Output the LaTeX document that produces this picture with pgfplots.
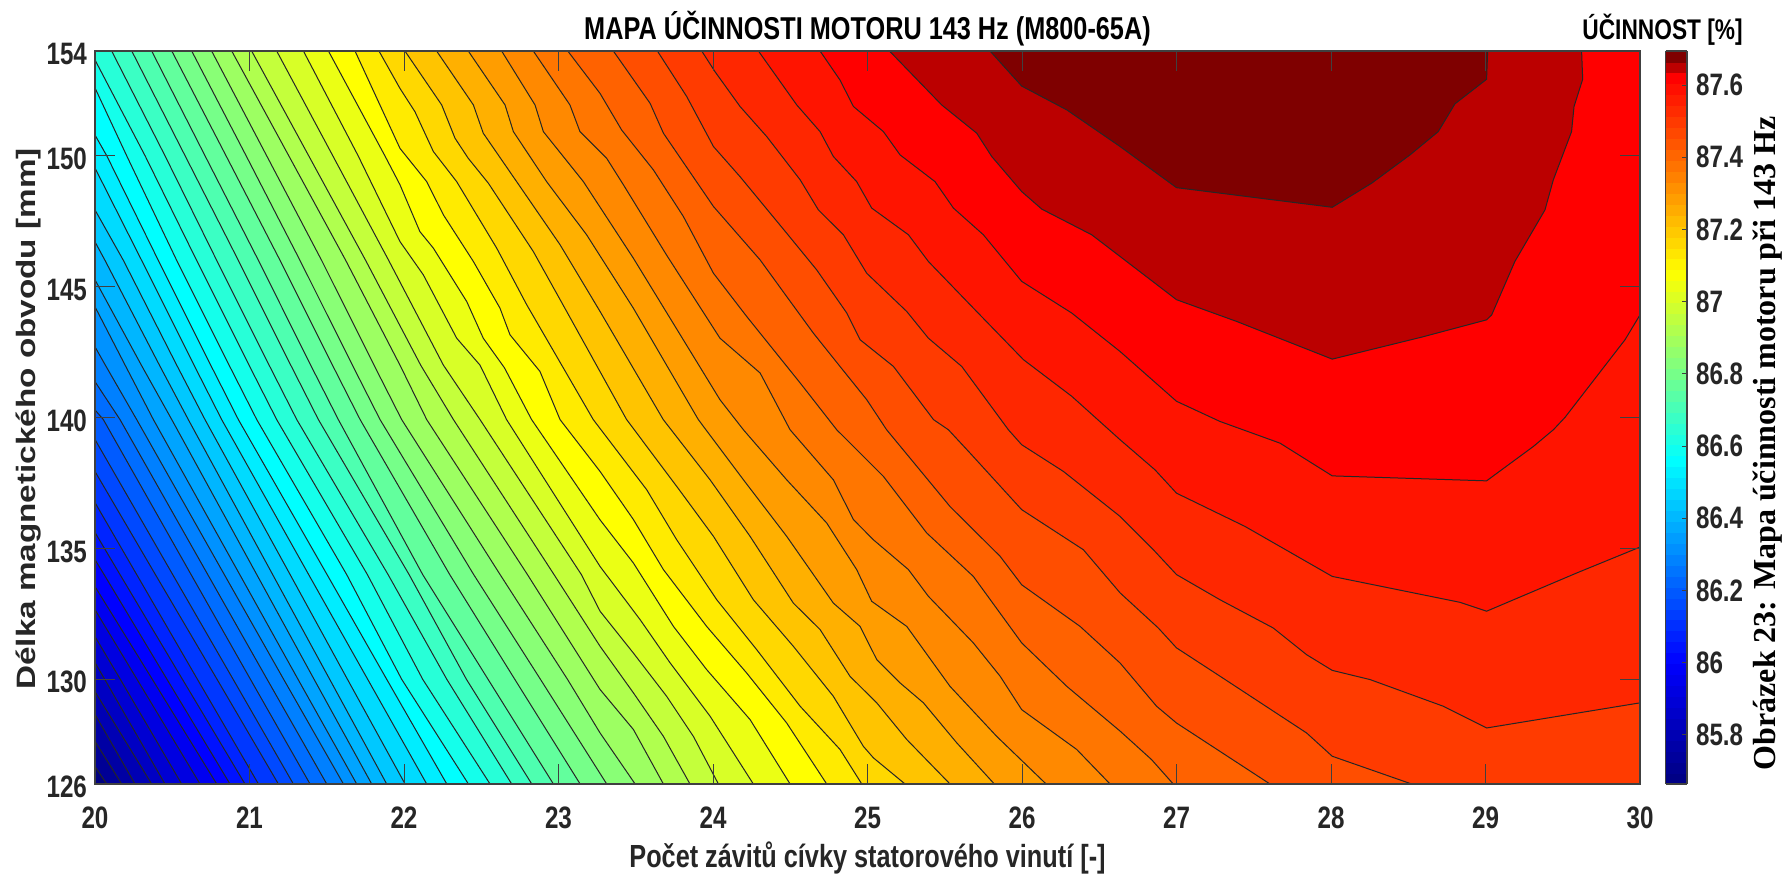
\documentclass[border=0pt]{standalone}
\usepackage{pgfplots}
\pgfplotsset{compat=1.18}
\usepackage{fontspec}
\setmainfont{Liberation Sans}
\newfontfamily\fTick[FakeStretch=0.78]{Liberation Sans}
\newfontfamily\fTitle[FakeStretch=0.8]{Liberation Sans}
\newfontfamily\fX[FakeStretch=0.79]{Liberation Sans}
\newfontfamily\fY[FakeStretch=1.25]{Liberation Sans}
\newfontfamily\fCap{Liberation Serif}
\definecolor{axgray}{RGB}{64,64,64}
\definecolor{txt}{RGB}{38,38,38}
% a level line that ends on the bottom edge
\newcommand\levB[4]{%
  \addplot[draw=none,fill={rgb,255:red,#1;green,#2;blue,#3}] coordinates {#4 (30,126)(30,154)(20,154)};
  \addplot[black!85,line width=0.5pt] coordinates {#4};}
% a level line that ends on the right edge
\newcommand\levR[4]{%
  \addplot[draw=none,fill={rgb,255:red,#1;green,#2;blue,#3}] coordinates {#4 (30,154)(20,154)};
  \addplot[black!85,line width=0.5pt] coordinates {#4};}
% a level line that starts and ends on the top edge
\newcommand\levT[4]{%
  \addplot[draw=none,fill={rgb,255:red,#1;green,#2;blue,#3}] coordinates {#4};
  \addplot[black!85,line width=0.5pt] coordinates {#4};}
\begin{document}
\begin{tikzpicture}
\useasboundingbox (-47.5pt,-47.5pt) rectangle (847pt,392pt);
\begin{axis}[
  at={(0pt,0pt)},anchor=south west,
  scale only axis,width=772.5pt,height=366.5pt,
  xmin=20,xmax=30,ymin=126,ymax=154,
  xtick={20,...,30},ytick={126,130,135,140,145,150,154},
  tick pos=both,tick align=inside,
  major tick length=10pt,
  tick style={axgray,line width=0.4pt},
  axis line style={axgray,line width=0.6pt},
  axis on top,clip mode=individual,
  /pgf/number format/assume math mode=true,
  ticklabel style={font=\fTick\bfseries\fontsize{15.5}{16}\selectfont,text=txt},
  xticklabel style={yshift=-8pt},
  yticklabel style={xshift=-0.5pt,yshift=-1.5pt},
  colormap={mine}{rgb255(0)=(0,0,127) rgb255(336)=(0,0,255) rgb255(896)=(0,255,255) rgb255(1416)=(255,255,0) rgb255(1955)=(255,0,0) rgb255(1985)=(187,0,0) rgb255(2015)=(127,0,0) rgb255(2030)=(127,0,0)},
  point meta min=85.664,point meta max=87.694,
  colorbar sampled,
  colorbar shift/.style={xshift=12.8pt},
  colorbar style={
    at={(parent axis.north east)},anchor=north west,
    samples=68,
    width=10.7pt,
    ytick={85.8,86,86.2,86.4,86.6,86.8,87,87.2,87.4,87.6},
    yticklabel pos=right,
    tick pos=right,
    major tick length=2.5pt,
    tick style={axgray,line width=0.4pt},
    axis line style={axgray,line width=0.6pt},
    /pgf/number format/assume math mode=true,
    /pgf/number format/fixed,
    /pgf/number format/precision=1,
    yticklabel style={font=\fTick\bfseries\fontsize{15.5}{16}\selectfont,text=txt,xshift=1pt},
  },
]
\addplot[draw=none,fill={rgb,255:red,0;green,0;blue,127}] coordinates {(20,126)(30,126)(30,154)(20,154)};
% level 85.72 upward
\levB{0}{0}{149}{(20,126.67)(20.076,126)}
\levB{0}{0}{164}{(20,127.63)(20.173,126)}
\levB{0}{0}{180}{(20,128.66)(20.259,126)}
\levB{0}{0}{195}{(20,129.53)(20.367,126)}
\levB{0}{0}{210}{(20,130.64)(20.063,130)(20.453,126)}
\levB{0}{0}{225}{(20,131.63)(20.164,130)(20.561,126)}
\levB{0}{0}{240}{(20,132.66)(20.272,130)(20.68,126)}
\levB{0}{0}{255}{(20,133.54)(20.371,130)(20.788,126)}
\levB{0}{18}{255}{(20,134.57)(20.059,134)(20.466,130)(20.874,126)}
\levB{0}{36}{255}{(20,135.61)(20.162,134)(20.566,130)(20.971,126)}
\levB{0}{55}{255}{(20,136.75)(20.27,134)(20.663,130)(21.058,126)}
\levB{0}{73}{255}{(20,137.94)(20.391,134)(20.79,130)(21.187,126)}
\levB{0}{91}{255}{(20,139.16)(20.503,134)(20.894,130)(21.284,126)}
\levB{0}{109}{255}{(20,140.29)(20.054,139.92)(20.622,134)(21.006,130)(21.392,126)}
\levB{0}{128}{255}{(20,141.37)(20.162,139.92)(20.73,134)(21.114,130)(21.5,126)}
\levB{0}{146}{255}{(20,142.7)(20.067,142)(20.27,139.92)(20.837,134)(21.221,130)(21.608,126)}
\levB{0}{164}{255}{(20,144.23)(20.195,142)(20.378,139.92)(20.937,134)(21.314,130)(21.694,126)}
\levB{0}{182}{255}{(20,145.26)(20.3,142)(20.497,139.92)(21.047,134)(21.418,130)(21.791,126)}
\levB{0}{200}{255}{(20,146.71)(20.065,146)(20.417,142)(20.604,139.92)(21.15,134)(21.519,130)(21.888,126)}
\levB{0}{219}{255}{(20,147.93)(20.184,146)(20.529,142)(20.712,139.92)(21.263,134)(21.634,130)(22.007,126)}
\levB{0}{237}{255}{(20,149.53)(20.302,146)(20.641,142)(20.82,139.92)(21.383,134)(21.765,130)(22.147,126)}
\levB{0}{255}{255}{(20,150.79)(20.076,150)(20.41,146)(20.749,142)(20.928,139.92)(21.502,134)(21.888,130)(22.277,126)}
\levB{20}{255}{235}{(20,152.59)(20.205,150)(20.529,146)(20.868,142)(21.047,139.92)(21.629,134)(21.985,130)(22.417,126)}
\levB{39}{255}{216}{(20,153.66)(20.324,150)(20.658,146)(20.997,142)(21.176,139.92)(21.763,134)(22.121,130)(22.557,126)}
\levB{59}{255}{196}{(20.108,154)(20.453,150)(20.788,146)(21.127,142)(21.306,139.92)(21.897,134)(22.277,130)(22.697,126)}
\levB{78}{255}{176}{(20.238,154)(20.583,150)(20.928,146)(21.267,142)(21.446,139.92)(22.033,134)(22.404,130)(22.827,126)}
\levB{98}{255}{157}{(20.367,154)(20.712,150)(21.058,146)(21.396,142)(21.575,139.92)(22.121,134)(22.544,130)(22.967,126)}
\levB{118}{255}{137}{(20.497,154)(20.848,150)(21.198,146)(21.537,142)(21.716,139.92)(22.296,134)(22.717,130)(23.14,126)}
\levB{137}{255}{118}{(20.626,154)(20.978,150)(21.327,146)(21.666,142)(21.845,139.92)(22.451,134)(22.883,130)(23.312,126)}
\levB{157}{255}{98}{(20.755,154)(21.111,150)(21.467,146)(21.806,142)(21.985,139.92)(22.622,134)(23.058,130)(23.269,127.95)(23.496,126)}
\levB{176}{255}{78}{(20.885,154)(21.254,150)(21.623,146)(21.974,142)(22.147,139.92)(22.799,134)(23.269,129.61)(23.485,128.08)(23.679,126)}
\levB{196}{255}{59}{(21.014,154)(21.383,150)(21.752,146)(22.108,142)(22.32,139.92)(22.971,134)(23.269,131.26)(23.485,129.48)(23.679,127.82)(23.851,126)}
\levB{216}{255}{39}{(21.176,154)(21.539,150)(21.901,146)(22.255,142)(22.492,139.92)(23.148,134)(23.269,132.6)(23.485,131)(23.7,129.35)(23.873,127.82)(24.035,126)}
\levB{235}{255}{20}{(21.349,154)(21.703,150)(21.974,146.72)(22.125,145.45)(22.341,143.03)(22.492,142)(22.664,139.92)(23.269,134.31)(23.528,132.28)(23.722,130.63)(23.981,128.59)(24.261,126)}
\levB{255}{255}{0}{(21.511,154)(21.877,149.99)(21.974,148.89)(22.103,147.1)(22.19,146.47)(22.406,144.43)(22.513,143.03)(22.65,141.9)(22.826,139.92)(23.269,136.09)(23.485,134.44)(23.744,132.02)(23.959,130.37)(24.24,128.46)(24.499,126)}
\levB{255}{235}{0}{(21.683,154)(21.974,150.28)(22.147,149.01)(22.255,147.74)(22.449,145.96)(22.621,144.18)(22.686,143.16)(22.88,141.76)(23.01,139.92)(23.269,137.94)(23.485,136.1)(23.679,134.19)(23.959,132.02)(24.218,130.24)(24.477,128.33)(24.736,126)}
\levB{255}{216}{0}{(21.838,154)(21.974,152.57)(22.071,151.68)(22.19,150.16)(22.341,149.01)(22.6,146.47)(22.794,144.31)(23.225,139.92)(23.571,137.24)(23.765,135.33)(24.024,133.04)(24.283,131.13)(24.564,128.97)(24.822,127.32)(24.963,126)}
\levB{255}{196}{0}{(22.006,154)(22.244,151.94)(22.33,150.67)(22.416,149.9)(22.546,148.95)(22.837,146.34)(23.053,144.05)(23.441,139.92)(23.765,137.37)(24.003,135.46)(24.261,133.04)(24.52,131.26)(24.779,129.35)(24.973,127.44)(25.038,127)(25.243,126)}
\levB{255}{176}{0}{(22.211,154)(22.449,151.94)(22.513,150.86)(22.729,149.01)(23.01,146.6)(23.269,144.05)(23.678,139.92)(23.981,137.62)(24.24,135.46)(24.52,132.91)(24.693,131.9)(24.887,130.11)(25.06,129.1)(25.254,127.7)(25.534,126)}
\levB{255}{157}{0}{(22.416,154)(22.654,151.94)(22.708,150.92)(22.923,149.01)(23.182,146.98)(23.484,144.18)(23.905,139.92)(24.197,137.62)(24.477,135.46)(24.779,132.91)(24.952,132.02)(25.06,130.75)(25.211,129.86)(25.362,129.1)(25.578,127.57)(25.821,126)}
\levB{255}{137}{0}{(22.632,154)(22.848,151.94)(22.902,150.92)(23.161,149.01)(23.484,146.09)(24.045,140.68)(24.197,139.53)(24.477,137.62)(24.736,135.97)(24.93,134.19)(25.027,132.98)(25.254,132.02)(25.534,129.73)(25.836,127.82)(26.156,126)}
\levB{255}{118}{0}{(22.837,154)(23.074,151.94)(23.139,150.92)(23.312,149.9)(23.42,148.89)(23.7,146.2)(24.045,143.03)(24.305,141.7)(24.499,139.53)(24.779,137.62)(24.909,136.1)(25.038,135.33)(25.265,134.19)(25.394,133.17)(25.685,131.39)(25.858,130.12)(25.998,128.84)(26.354,127.32)(26.57,126)}
\levB{255}{98}{0}{(23.06,154)(23.269,152.38)(23.409,150.98)(23.614,149.46)(23.808,147.68)(24.003,145.51)(24.218,143.86)(24.564,141.32)(24.801,139.53)(25.103,137.75)(25.383,135.59)(25.685,133.93)(25.998,131.39)(26.29,129.73)(26.635,128.02)(26.839,126.93)(26.979,126)}
\levB{255}{78}{0}{(23.355,154)(23.593,152)(23.679,150.86)(24.003,148.06)(24.305,146.02)(24.477,144.62)(24.65,143.22)(24.822,141.95)(24.995,140.68)(25.124,139.53)(25.534,136.6)(25.858,134.7)(25.998,133.61)(26.376,132.02)(26.635,130.62)(26.871,128.97)(27,128.33)(27.605,126)}
\levB{255}{59}{0}{(23.64,154)(23.83,152.26)(24.003,150.35)(24.175,149.2)(24.477,147.04)(24.671,145.64)(24.866,143.99)(24.952,142.97)(25.168,141.95)(25.427,139.92)(25.524,139.53)(25.664,138.64)(25.998,136.48)(26.397,134.95)(26.635,133.3)(26.882,131.96)(27,131.2)(27.281,130.12)(27.842,127.95)(28.008,127.06)(28.522,126)}
\levR{255}{39}{0}{(23.927,154)(24.013,153.21)(24.175,151.88)(24.348,150.73)(24.564,149.08)(24.682,147.93)(24.844,146.98)(24.995,145.51)(25.254,144.05)(25.394,143.03)(25.61,141.95)(25.912,139.53)(25.998,138.96)(26.268,137.94)(26.635,136.22)(26.85,134.95)(27,134)(27.281,133.04)(27.626,131.96)(27.842,130.94)(28.008,130.34)(28.252,129.99)(28.727,128.97)(29.007,128.14)(30,129.1)}
\levR{255}{20}{0}{(24.294,154)(24.542,151.94)(24.693,150.92)(24.779,149.97)(24.93,149.01)(25.027,148)(25.265,146.98)(25.394,145.96)(25.685,144.18)(26.009,142.21)(26.322,140.81)(26.635,139.15)(26.861,138)(27,137.11)(27.443,135.84)(28.008,133.93)(28.835,132.94)(29.007,132.6)(29.59,134.06)(30,135.05)}
\levR{255}{0}{0}{(24.693,154)(24.822,152.89)(24.909,151.88)(25.103,150.92)(25.211,150.03)(25.437,149.01)(25.556,148)(25.75,146.98)(25.998,145.2)(26.322,143.99)(26.635,142.52)(27,140.62)(27.281,139.85)(27.67,139.02)(28.008,137.77)(29.007,137.58)(29.309,138.89)(29.439,139.53)(29.514,140)(29.903,142.97)(30,143.92)}
\levT{187}{0}{0}{(25.142,154)(25.48,151.94)(25.707,150.86)(25.804,149.97)(25.998,148.63)(26.128,147.96)(26.451,146.98)(26.635,146.15)(27,144.5)(27.389,143.67)(28.008,142.23)(28.587,143.07)(29.007,143.73)(29.04,143.92)(29.19,145.96)(29.385,147.93)(29.439,149.08)(29.557,150.92)(29.573,151.88)(29.629,152.92)(29.622,154)}
\levT{127}{0}{0}{(25.793,154)(25.998,152.66)(26.29,151.75)(26.635,150.35)(27,148.78)(28.008,148.03)(28.263,148.95)(28.511,150.03)(28.694,150.92)(28.802,151.98)(29.007,152.92)(29.014,154)}
% texts
\node[font=\fTitle\bfseries\fontsize{15.8}{16}\selectfont,text=black] at (rel axis cs:0.5,1.031) {MAPA ÚČINNOSTI MOTORU 143 Hz (M800-65A)};
\node[font=\fTitle\bfseries\fontsize{14.2}{15}\selectfont,text=black] at (rel axis cs:1.0146,1.029) {ÚČINNOST [\%]};
\node[font=\fX\bfseries\fontsize{16}{17}\selectfont,text=txt] at (rel axis cs:0.5,-0.101) {Počet závitů cívky statorového vinutí [-]};
\node[font=\fY\bfseries\fontsize{13.3}{14}\selectfont,text=txt,rotate=90] at (rel axis cs:-0.0427,0.498) {Délka magnetického obvodu [mm]};
\node[font=\fCap\bfseries\fontsize{16}{17}\selectfont,text=black,rotate=90] at (rel axis cs:1.0825,0.465) {Obrázek 23: Mapa účinnosti motoru při 143 Hz};
\end{axis}
\end{tikzpicture}
\end{document}
